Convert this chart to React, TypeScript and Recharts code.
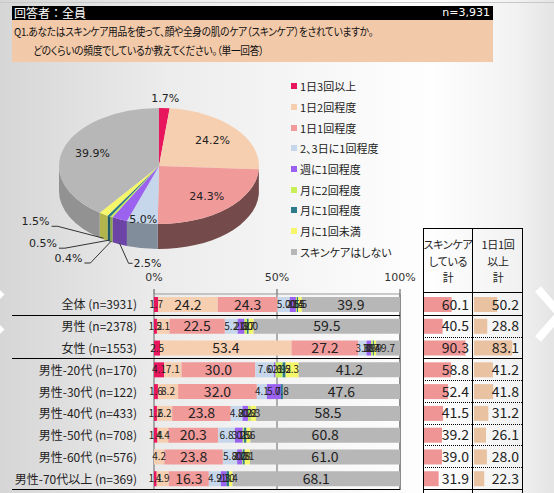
import React from 'react';
import { PieChart, Pie, BarChart, Bar, XAxis, YAxis, CartesianGrid, LabelList } from 'recharts';

const categories = ['1日3回以上', '1日2回程度', '1日1回程度', '2、3日に1回程度', '週に1回程度', '月に2回程度', '月に1回程度', '月に1回未満', 'スキンケアはしない'];
const colors = ['#e8175d', '#f6cfb0', '#f19a9a', '#c6d7ec', '#9a62ee', '#c8ee58', '#2b7b8a', '#f6f66a', '#b7b7b7'];

// overall (pie)
const pieValues = [1.7, 24.2, 24.3, 5.0, 2.5, 0.4, 0.5, 1.5, 39.9];

// stacked bars
const rowLabels = ['全体 (n=3931)', '男性 (n=2378)', '女性 (n=1553)', '男性-20代 (n=170)', '男性-30代 (n=122)', '男性-40代 (n=433)', '男性-50代 (n=708)', '男性-60代 (n=576)', '男性-70代以上 (n=369)'];
const threePlus = [1.7, 1.2, 2.5, 4.1, 1.6, 1.2, 1.4, 0.0, 1.1];
const twiceDaily = [24.2, 5.1, 53.4, 7.1, 8.2, 6.2, 4.4, 4.2, 4.9];
const onceDaily = [24.3, 22.5, 27.2, 30.0, 32.0, 23.8, 20.3, 23.8, 16.3];
const every2or3 = [5.0, 5.2, 3.3, 7.6, 4.1, 4.8, 6.8, 5.8, 4.9];
const weekly = [2.5, 2.8, 1.9, 0.6, 5.7, 2.2, 3.2, 2.0, 2.3];
const twiceMonthly = [0.4, 1.0, 0.7, 2.9, 0.0, 0.8, 0.5, 0.3, 0.0];
const monthly = [0.5, 0.7, 0.4, 1.2, 0.8, 0.2, 1.0, 0.8, 1.0];
const lessMonthly = [1.5, 2.0, 0.9, 5.3, 0.0, 2.3, 1.6, 2.1, 1.4];
const never = [39.9, 59.5, 9.7, 41.2, 47.6, 58.5, 60.8, 61.0, 68.1];
const series = [threePlus, twiceDaily, onceDaily, every2or3, weekly, twiceMonthly, monthly, lessMonthly, never];

// right side totals
const skincareTotal = [60.1, 40.5, 90.3, 58.8, 52.4, 41.5, 39.2, 39.0, 31.9];
const dailyTotal = [50.2, 28.8, 83.1, 41.2, 41.8, 31.2, 26.1, 28.0, 22.3];
const axisTicks = [0, 50, 100];

const JP = '"Noto Sans CJK JP", sans-serif';
const NUM = '"DejaVu Sans", sans-serif';

const pieData = categories.map((name, i) => ({ name, value: pieValues[i] }));
const barRows = rowLabels.map((name, i) => {
  const r: any = { name };
  series.forEach((s, k) => (r['c' + k] = s[i]));
  return r;
});
const totalRows = rowLabels.map((name, i) => ({ name, a: skincareTotal[i], b: dailyTotal[i] }));

// 3D pie helpers
const RX = 100;
const RY = 58;
const DEPTH = 25;
const rad = (d: number) => (d * Math.PI) / 180;
const pt = (cx: number, cy: number, a: number, f = 1) => [cx + RX * f * Math.cos(rad(a)), cy - RY * f * Math.sin(rad(a))];
const shade = (hex: string, k: number) => {
  const n = parseInt(hex.slice(1), 16);
  return `rgb(${Math.round(((n >> 16) & 255) * k)},${Math.round(((n >> 8) & 255) * k)},${Math.round((n & 255) * k)})`;
};

const renderFace = (p: any) => {
  const { cx, cy, startAngle, endAngle, index } = p;
  const hi = Math.max(startAngle, endAngle);
  const lo = Math.min(startAngle, endAngle);
  const col = colors[index];
  const a = Math.max(lo, -180);
  const b = Math.min(hi, 0);
  let side = null;
  if (b > a) {
    const [x1, y1] = pt(cx, cy, b);
    const [x2, y2] = pt(cx, cy, a);
    const k = 0.62 - 0.2 * Math.cos(rad((a + b) / 2));
    side = (
      <path
        d={`M${x1},${y1} A${RX},${RY} 0 0 1 ${x2},${y2} L${x2},${y2 + DEPTH} A${RX},${RY} 0 0 0 ${x1},${y1 + DEPTH} Z`}
        fill={shade(col, k)}
      />
    );
  }
  const [sx, sy] = pt(cx, cy, hi);
  const [ex, ey] = pt(cx, cy, lo);
  const large = hi - lo > 180 ? 1 : 0;
  return (
    <g key={'face' + index}>
      {side}
      <path d={`M${cx},${cy} L${sx},${sy} A${RX},${RY} 0 ${large} 1 ${ex},${ey} Z`} fill={col} />
    </g>
  );
};

// where the leader lines of the thin slices end
const leaderOffsets: Record<number, [number, number]> = { 4: [9, 20], 5: [-21, 22], 6: [-44, 8], 7: [-46, -12] };

const renderPieText = (p: any) => {
  const { cx, cy, midAngle, index } = p;
  const v = pieValues[index];
  const txt = v.toFixed(1) + '%';
  const style = { fontFamily: NUM, fontSize: 11, fill: '#222' };
  if (v >= 3 || Math.sin(rad(midAngle)) > 0) {
    const f = v >= 10 ? 0.7 : v >= 3 ? 0.93 : 1.18;
    const [x, y] = pt(cx, cy, midAngle, f);
    return (
      <text key={'t' + index} x={x} y={y} dy={4} textAnchor="middle" {...style}>
        {txt}
      </text>
    );
  }
  const [ax, ay0] = pt(cx, cy, midAngle);
  const ay = ay0 + DEPTH - 1;
  const [ox, oy] = leaderOffsets[index] || [-30, 10];
  const ex = ax + ox;
  const ey = ay + oy;
  const right = ox > 0;
  const hx = right ? ex + 4 : ex - 6;
  return (
    <g key={'t' + index}>
      <polyline points={`${ax},${ay} ${ex},${ey} ${hx},${ey}`} fill="none" stroke="#333" strokeWidth={1} />
      <text x={right ? hx + 1 : hx - 2} y={ey} dy={right ? 4 : -1} textAnchor={right ? 'start' : 'end'} {...style}>
        {txt}
      </text>
    </g>
  );
};

const SegLabel = (p: any) => {
  const { x, y, width, height, value } = p;
  if (!value) return null;
  const big = value >= 10;
  return (
    <text x={x + width / 2} y={y + height / 2} dy={big ? 5 : 3.5} textAnchor="middle" fontSize={big ? 14 : 10} fill="#222" fontFamily={JP}>
      {Number(value).toFixed(1)}
    </text>
  );
};

const TotalLabel = (p: any) => {
  const { x, y, height, value } = p;
  return (
    <text x={x + 45} y={y + height / 2} dy={5} textAnchor="end" fontSize={14} fill="#222" fontFamily={JP}>
      {Number(value).toFixed(1)}
    </text>
  );
};

const RowTick = (p: any) => (
  <text x={125} y={p.y} dy={4.5} textAnchor="end" fontSize={12} fill="#222" fontFamily={JP} style={{ fontFeatureSettings: '"palt"' }}>
    {p.payload.value}
  </text>
);

const PctTick = (p: any) => (
  <text x={p.x} y={10.5} textAnchor="middle" fontSize={11} fill="#333" fontFamily={NUM}>
    {p.payload.value + '%'}
  </text>
);

const PLOT_TOP = 294;
const PITCH = 196 / 9;

export default function App() {
  const palt = { fontFeatureSettings: '"palt"' } as React.CSSProperties;
  const boundaries = Array.from({ length: 9 }, (_, k) => k + 1);
  const headStyle: React.CSSProperties = { position: 'absolute', top: 236, width: 50, textAlign: 'center', fontSize: 11, lineHeight: '16.5px', color: '#222', whiteSpace: 'nowrap', letterSpacing: -0.3, ...palt };
  const qLine: React.CSSProperties = { position: 'absolute', whiteSpace: 'nowrap', letterSpacing: -0.3, transform: 'scaleX(0.88)', transformOrigin: 'left center' };
  return (
    <div
      style={{
        position: 'absolute',
        left: 0,
        top: 0,
        width: 554,
        height: 493,
        overflow: 'hidden',
        fontFamily: JP,
        background: 'linear-gradient(to right, #d6d6d6 0%, #ececec 30%, #f8f8f8 60%, #fefefe 78%, #f2f2f2 93%, #e4e4e4 100%)',
      }}
    >
      <div style={{ position: 'absolute', left: 0, top: 2, width: 554, height: 1, background: '#c8c8c8' }} />
      {/* header */}
      <div style={{ position: 'absolute', left: 12, top: 6, width: 481, height: 14, background: '#000', color: '#fff', fontSize: 12, lineHeight: '14px' }}>
        <span style={{ position: 'absolute', left: 2 }}>回答者：全員</span>
        <span style={{ position: 'absolute', right: 3, fontFamily: NUM, fontSize: 11 }}>n=3,931</span>
      </div>
      <div style={{ position: 'absolute', left: 12, top: 20, width: 481, height: 42, background: '#f2c9a9', color: '#111', fontSize: 11, ...palt }}>
        <div style={{ ...qLine, left: 2, top: 3 }}>Q1.あなたはスキンケア用品を使って、顔や全身の肌のケア（スキンケア）をされていますか。</div>
        <div style={{ ...qLine, left: 21, top: 22 }}>どのくらいの頻度でしているか教えてください。（単一回答）</div>
      </div>

      {/* pie */}
      <div style={{ position: 'absolute', left: 0, top: 70 }}>
        <PieChart width={290} height={200}>
          <Pie data={pieData} dataKey="value" cx={154} cy={91} outerRadius={100} startAngle={90} endAngle={-270} fill="transparent" stroke="none" label={renderFace} labelLine={false} isAnimationActive={false} />
          <Pie data={pieData} dataKey="value" cx={154} cy={91} outerRadius={100} startAngle={90} endAngle={-270} fill="transparent" stroke="none" label={renderPieText} labelLine={false} isAnimationActive={false} />
        </PieChart>
      </div>

      {/* legend */}
      <div style={{ position: 'absolute', left: 291, top: 76 }}>
        {categories.map((c, i) => (
          <div key={c} style={{ height: 20.7, display: 'flex', alignItems: 'center', fontSize: 11, color: '#222', whiteSpace: 'nowrap', ...palt }}>
            <span style={{ width: 6, height: 6, background: colors[i], marginRight: 3, display: 'inline-block' }} />
            {c}
          </div>
        ))}
      </div>

      {/* stacked bars */}
      <div style={{ position: 'absolute', left: 12, top: 270 }}>
        <BarChart layout="vertical" data={barRows} width={420} height={222} margin={{ top: 4, right: 32, left: 0, bottom: 2 }} barSize={15} style={{ overflow: 'visible' }}>
          <CartesianGrid horizontal={false} stroke="#666" />
          <XAxis type="number" orientation="top" domain={[0, 100]} ticks={axisTicks} height={20} tick={<PctTick />} tickSize={5} tickLine={{ stroke: '#555' }} axisLine={{ stroke: '#999' }} />
          <YAxis type="category" dataKey="name" width={142} tick={<RowTick />} tickLine={false} axisLine={false} interval={0} />
          {series.map((_, k) => (
            <Bar key={k} dataKey={'c' + k} stackId="s" fill={colors[k]} isAnimationActive={false}>
              <LabelList dataKey={'c' + k} content={<SegLabel />} />
            </Bar>
          ))}
        </BarChart>
      </div>

      {/* totals */}
      <div style={{ position: 'absolute', left: 424, top: PLOT_TOP }}>
        <BarChart layout="vertical" data={totalRows} width={49} height={196} margin={{ top: 0, right: 3, left: 0, bottom: 0 }} barSize={15}>
          <XAxis type="number" domain={[0, 100]} hide />
          <YAxis type="category" dataKey="name" hide />
          <Bar dataKey="a" fill="#ef9595" isAnimationActive={false}>
            <LabelList dataKey="a" content={<TotalLabel />} />
          </Bar>
        </BarChart>
      </div>
      <div style={{ position: 'absolute', left: 474, top: PLOT_TOP }}>
        <BarChart layout="vertical" data={totalRows} width={49} height={196} margin={{ top: 0, right: 3, left: 0, bottom: 0 }} barSize={15}>
          <XAxis type="number" domain={[0, 100]} hide />
          <YAxis type="category" dataKey="name" hide />
          <Bar dataKey="b" fill="#e9c2a2" isAnimationActive={false}>
            <LabelList dataKey="b" content={<TotalLabel />} />
          </Bar>
        </BarChart>
      </div>

      {/* column headers */}
      <div style={{ ...headStyle, left: 423 }}>
        スキンケア<br />している<br />計
      </div>
      <div style={{ ...headStyle, left: 473 }}>
        1日1回<br />以上<br />計
      </div>

      {/* rules and frame */}
      <svg width={554} height={493} style={{ position: 'absolute', left: 0, top: 0, pointerEvents: 'none' }}>
        <line x1={423.5} x2={423.5} y1={228} y2={493} stroke="#000" />
        <line x1={472.5} x2={472.5} y1={228} y2={493} stroke="#000" />
        <line x1={522.5} x2={522.5} y1={228} y2={493} stroke="#000" />
        <line x1={423} x2={523} y1={228.5} y2={228.5} stroke="#000" />
        <line x1={423} x2={523} y1={292.5} y2={292.5} stroke="#000" />
        {boundaries.map((k) => {
          const y = Math.round(PLOT_TOP + k * PITCH) - 0.5;
          const solid = k === 1 || k === 3 || k === 9;
          return (
            <g key={k}>
              {solid && <line x1={12} x2={400} y1={y} y2={y} stroke="#000" />}
              <line x1={423} x2={523} y1={y} y2={y} stroke="#000" strokeDasharray={solid ? undefined : '1 1'} />
            </g>
          );
        })}
        <polyline points="2,292 -18,312 2,332" fill="none" stroke="#fff" strokeWidth={7} />
        <polyline points="538,289 560,314 538,339" fill="none" stroke="#fff" strokeWidth={8} />
      </svg>
    </div>
  );
}
